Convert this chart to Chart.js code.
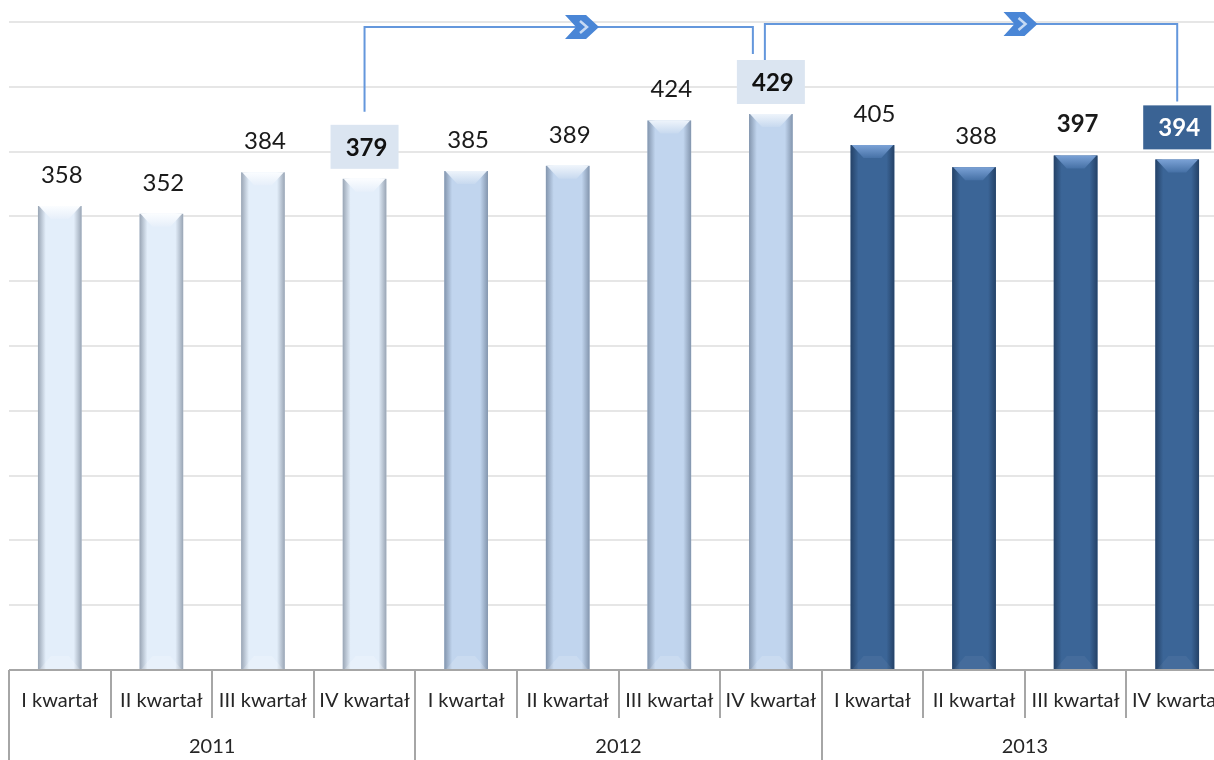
<!DOCTYPE html>
<html>
<head>
<meta charset="utf-8">
<script src="https://cdn.jsdelivr.net/npm/chart.js@4.4.1/dist/chart.umd.min.js"></script>
<style>
  html, body { margin: 0; padding: 0; background: #fff; overflow: hidden; }
  #wrap { width: 1240px; height: 760px; position: relative; }
</style>
</head>
<body>
<div id="wrap"><canvas id="chart"></canvas></div>
<script>
// data
const quarterNames = ['I kwartał', 'II kwartał', 'III kwartał', 'IV kwartał'];
const years = ['2011', '2012', '2013'];
const values = [358, 352, 384, 379, 385, 389, 424, 429, 405, 388, 397, 394];
const yMin = 0;
const yMax = 500;
const yStep = 50;

// connectors between highlighted quarters (category indexes)
const links = [[3, 7], [7, 11]];
const arrowAt = [0.56, 0.62];

// styles
const FONT = 'Lato, "Open Sans", sans-serif';
const yearStyles = [
    { fill: '#e3eefa', edge: 'rgba(140,152,168,0.85)', edgeFade: 'rgba(140,152,168,0)', top: '#fbfdff', topEnd: '#e6effa', bottom: 'rgba(255,255,255,0.2)' },
    { fill: '#c1d5ee', edge: 'rgba(120,138,162,0.85)', edgeFade: 'rgba(120,138,162,0)', top: '#eef4fb', topEnd: '#c7d9ef', bottom: 'rgba(255,255,255,0.15)' },
    { fill: '#3b6597', edge: 'rgba(34,62,98,0.9)', edgeFade: 'rgba(34,62,98,0)', top: '#7ba2d6', topEnd: '#4671a6', bottom: 'rgba(255,255,255,0.05)' }
];
const boldLabels = [3, 7, 10, 11];
const labelBoxes = {
    3: { bg: '#dbe5f1', color: '#111' },
    7: { bg: '#dbe5f1', color: '#111' },
    11: { bg: '#3a6394', color: '#fff' }
};
const LABEL_GAP = 32;

const labels = years.flatMap(y => quarterNames.map(q => q));
const barColors = values.map((v, i) => yearStyles[Math.floor(i / 4)].fill);

function labelY(bar) {
    return bar.y - LABEL_GAP;
}

const bevelPlugin = {
    id: 'bevel',
    afterDatasetsDraw(chart) {
        const ctx = chart.ctx;
        const meta = chart.getDatasetMeta(0);
        meta.data.forEach((bar, i) => {
            const st = yearStyles[Math.floor(i / 4)];
            const w = bar.width;
            const l = bar.x - w / 2, r = bar.x + w / 2, t = bar.y, b = bar.base;
            const inset = 13, cap = 13;
            ctx.save();
            // side shading
            const g = ctx.createLinearGradient(l, 0, r, 0);
            g.addColorStop(0, st.edge);
            g.addColorStop(0.18, st.edgeFade);
            g.addColorStop(0.82, st.edgeFade);
            g.addColorStop(1, st.edge);
            ctx.fillStyle = g;
            ctx.fillRect(l, t, w, b - t);
            // top cap
            const tg = ctx.createLinearGradient(0, t, 0, t + cap);
            tg.addColorStop(0, st.top);
            tg.addColorStop(1, st.topEnd);
            ctx.fillStyle = tg;
            ctx.beginPath();
            ctx.moveTo(l + 1, t);
            ctx.lineTo(r - 1, t);
            ctx.lineTo(r - inset, t + cap);
            ctx.lineTo(l + inset, t + cap);
            ctx.closePath();
            ctx.fill();
            // bottom cap
            ctx.fillStyle = st.bottom;
            ctx.beginPath();
            ctx.moveTo(l + 2, b);
            ctx.lineTo(r - 2, b);
            ctx.lineTo(r - inset, b - cap);
            ctx.lineTo(l + inset, b - cap);
            ctx.closePath();
            ctx.fill();
            ctx.restore();
        });
    }
};

const labelPlugin = {
    id: 'valueLabels',
    afterDatasetsDraw(chart) {
        const ctx = chart.ctx;
        const meta = chart.getDatasetMeta(0);
        ctx.save();
        ctx.textAlign = 'center';
        ctx.textBaseline = 'middle';
        meta.data.forEach((bar, i) => {
            const y = labelY(bar);
            const box = labelBoxes[i];
            if (box) {
                ctx.fillStyle = box.bg;
                ctx.fillRect(bar.x - 34, y - 22, 68, 44);
            }
            ctx.font = (boldLabels.includes(i) ? 'bold ' : '') + '24px ' + FONT;
            ctx.fillStyle = box ? box.color : '#1a1a1a';
            ctx.fillText(String(values[i]), bar.x + 2, y + 1);
        });
        ctx.restore();
    }
};

function drawChevron(ctx, cx, cy) {
    ctx.fillStyle = '#4a86d6';
    ctx.beginPath();
    ctx.moveTo(cx - 17, cy - 12);
    ctx.lineTo(cx + 4, cy - 12);
    ctx.lineTo(cx + 17, cy);
    ctx.lineTo(cx + 4, cy + 12);
    ctx.lineTo(cx - 17, cy + 12);
    ctx.lineTo(cx - 6, cy);
    ctx.closePath();
    ctx.fill();
    ctx.strokeStyle = '#c6daf4';
    ctx.lineWidth = 2.5;
    ctx.beginPath();
    ctx.moveTo(cx - 2, cy - 6);
    ctx.lineTo(cx + 5, cy);
    ctx.lineTo(cx - 2, cy + 6);
    ctx.stroke();
}

const connectorPlugin = {
    id: 'connectors',
    afterDraw(chart) {
        const ctx = chart.ctx;
        const meta = chart.getDatasetMeta(0);
        const area = chart.chartArea;
        ctx.save();
        links.forEach(([from, to], k) => {
            const a = meta.data[from], b = meta.data[to];
            const x1 = k === 0 ? a.x : a.x - 6;
            const x2 = k === 0 ? b.x - 18 : b.x;
            const yTop = area.top + (k === 0 ? 5 : 2);
            const y1 = labelY(a) - 22 - (k === 0 ? 13 : 0);
            const y2 = labelY(b) - 22 - (k === 0 ? 6 : 4);
            ctx.strokeStyle = '#6497dc';
            ctx.lineWidth = 2;
            ctx.beginPath();
            ctx.moveTo(x1, y1);
            ctx.lineTo(x1, yTop);
            ctx.lineTo(x2, yTop);
            ctx.lineTo(x2, y2);
            ctx.stroke();
            drawChevron(ctx, x1 + (x2 - x1) * arrowAt[k], yTop);
        });
        ctx.restore();
    }
};

const axisPlugin = {
    id: 'groupAxis',
    afterDraw(chart) {
        const ctx = chart.ctx;
        const area = chart.chartArea;
        const xs = chart.scales.x;
        const step = (area.right - area.left) / labels.length;
        const base = area.bottom;
        ctx.save();
        ctx.strokeStyle = '#a6a6a6';
        ctx.lineWidth = 2;
        ctx.beginPath();
        ctx.moveTo(area.left, base);
        ctx.lineTo(area.right, base);
        ctx.stroke();
        ctx.beginPath();
        for (let i = 0; i <= labels.length; i++) {
            const x = Math.round(area.left + i * step);
            ctx.moveTo(x, base);
            ctx.lineTo(x, i % 4 === 0 ? chart.height : base + 48);
        }
        ctx.stroke();
        ctx.fillStyle = '#262626';
        ctx.textAlign = 'center';
        ctx.textBaseline = 'middle';
        ctx.font = '20px ' + FONT;
        labels.forEach((lab, i) => {
            ctx.fillText(lab, xs.getPixelForValue(i), base + 31);
        });
        years.forEach((y, j) => {
            const xa = xs.getPixelForValue(j * 4), xb = xs.getPixelForValue(j * 4 + 3);
            ctx.fillText(y, (xa + xb) / 2, base + 77);
        });
        ctx.restore();
    }
};

new Chart(document.getElementById('chart'), {
    type: 'bar',
    data: {
        labels: labels,
        datasets: [{
            data: values,
            backgroundColor: barColors,
            borderWidth: 0,
            categoryPercentage: 1,
            barPercentage: 0.43
        }]
    },
    options: {
        responsive: true,
        maintainAspectRatio: false,
        animation: false,
        layout: { padding: { left: 9, right: 12, top: 22, bottom: 90 } },
        plugins: {
            legend: { display: false },
            tooltip: { enabled: false }
        },
        scales: {
            x: { display: false },
            y: {
                min: yMin,
                max: yMax,
                ticks: { display: false, stepSize: yStep },
                grid: { color: '#e6e6e6', lineWidth: 2, drawTicks: false },
                border: { display: false }
            }
        }
    },
    plugins: [bevelPlugin, labelPlugin, connectorPlugin, axisPlugin]
});
</script>
</body>
</html>
